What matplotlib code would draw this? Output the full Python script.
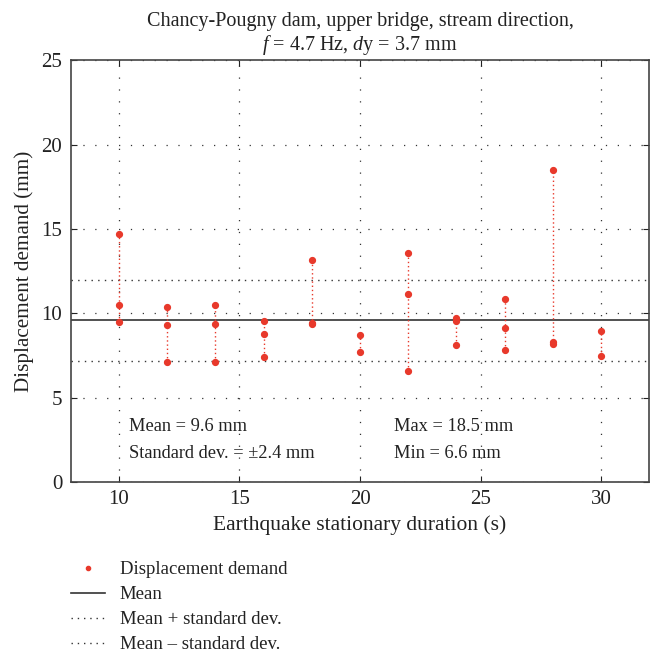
import matplotlib
matplotlib.use("Agg")
import matplotlib.pyplot as plt
from matplotlib.lines import Line2D
import numpy as np

plt.rcParams['font.family'] = ['Liberation Serif', 'DejaVu Serif']
plt.rcParams['mathtext.fontset'] = 'custom'
plt.rcParams['mathtext.it'] = 'Liberation Serif:italic'
plt.rcParams['mathtext.rm'] = 'Liberation Serif'

durations = [10, 12, 14, 16, 18, 20, 22, 24, 26, 28, 30]
demands = [
    [14.7, 10.5, 9.5],
    [10.35, 9.3, 7.1],
    [10.5, 9.35, 7.1],
    [9.55, 8.8, 7.4],
    [13.15, 9.45, 9.35],
    [8.7, 7.7],
    [13.6, 11.15, 6.55],
    [9.7, 9.55, 8.1],
    [10.85, 9.1, 7.85],
    [18.5, 8.3, 8.15],
    [8.95, 7.45],
]
mean_val = 9.6
std_val = 2.4

RED = '#e8392b'
DARK = '#222222'

fig = plt.figure(figsize=(6.54, 6.54), dpi=100)
ax = fig.add_axes([0.108, 0.263, 0.885, 0.645])

for x, vals in zip(durations, demands):
    ax.plot([x, x], [min(vals), max(vals)], linestyle=(0, (1, 2)), color=RED, lw=1.0, zorder=3)
    ax.plot([x] * len(vals), vals, 'o', color=RED, ms=4.2, zorder=4)

ax.axhline(mean_val, color='#333333', lw=1.2, zorder=2)
ax.axhline(mean_val + std_val, color='#333333', lw=1.0, linestyle=(0, (1, 3.8)), zorder=2)
ax.axhline(mean_val - std_val, color='#333333', lw=1.0, linestyle=(0, (1, 3.8)), zorder=2)

ax.set_xlim(8, 32)
ax.set_ylim(0, 25)
ax.set_xticks([10, 15, 20, 25, 30])
ax.set_yticks([0, 5, 10, 15, 20, 25])
ax.grid(True, color='#333333', linestyle=(0, (1, 8.5)), lw=0.9)
ax.tick_params(direction='in', top=True, right=True, labelsize=15, length=4, colors=DARK)
ax.tick_params(axis='x', pad=6)
ax.tick_params(axis='y', pad=6)
for s in ax.spines.values():
    s.set_color('#444444')
    s.set_linewidth(1.2)

ax.set_xlabel('Earthquake stationary duration (s)', fontsize=15.5, color=DARK, labelpad=4)
ax.set_ylabel('Displacement demand (mm)', fontsize=15.2, color=DARK, labelpad=5)
ax.set_title('Chancy-Pougny dam, upper bridge, stream direction,\n$f$ = 4.7 Hz, $d$y = 3.7 mm',
             fontsize=14.5, color=DARK, pad=7, linespacing=1.15)

ax.text(10.4, 3.0, 'Mean = 9.6 mm', fontsize=13.2, color=DARK)
ax.text(10.4, 1.4, 'Standard dev. = \u00b12.4 mm', fontsize=13.2, color=DARK)
ax.text(21.4, 3.0, 'Max = 18.5 mm', fontsize=13.2, color=DARK)
ax.text(21.4, 1.4, 'Min = 6.6 mm', fontsize=13.2, color=DARK)

handles = [
    Line2D([], [], marker='o', color=RED, ls='none', ms=3),
    Line2D([], [], color='#333333', lw=1.2),
    Line2D([], [], color='#333333', lw=1.0, ls=(0, (1, 3.5))),
    Line2D([], [], color='#333333', lw=1.0, ls=(0, (1, 3.5))),
]
labels = ['Displacement demand', 'Mean', 'Mean + standard dev.', 'Mean \u2013 standard dev.']
fig.legend(handles, labels, loc='upper left', bbox_to_anchor=(0.1086, 0.142), frameon=False,
           fontsize=13.5, handlelength=1.8, labelspacing=0.42, handletextpad=0.8,
           labelcolor=DARK, borderaxespad=0, borderpad=0)

fig.savefig('out.png', dpi=100)
